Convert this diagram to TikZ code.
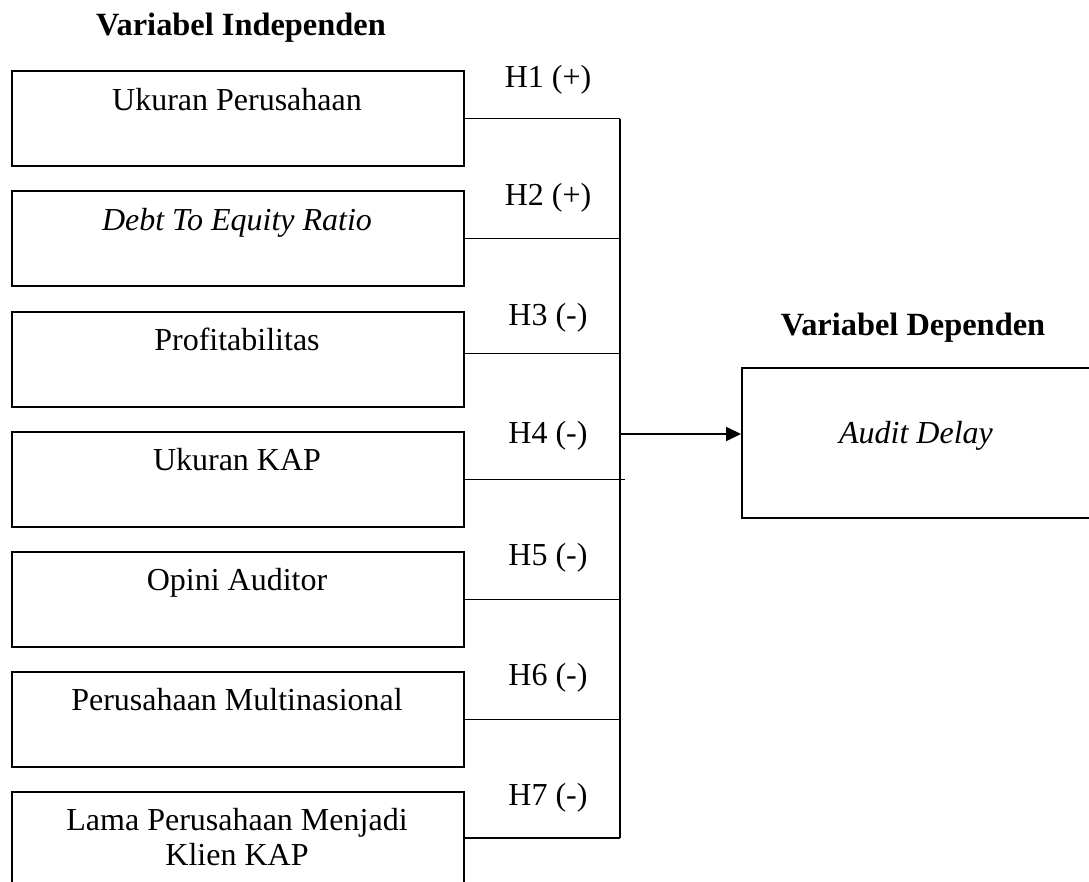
\documentclass[tikz,border=0pt]{standalone}
\usepackage{fontspec}
\setmainfont{Liberation Serif}
\usetikzlibrary{arrows.meta}
\begin{document}
\begin{tikzpicture}[x=1pt,y=-1pt,
  box/.style={draw,line width=1.8pt,rectangle,minimum width=452pt,minimum height=95pt,inner sep=0pt,anchor=north west},
  lbl/.style={font=\fontsize{32}{36}\selectfont,anchor=base,inner sep=0pt},
  hyp/.style={font=\fontsize{32}{36}\selectfont,anchor=base,inner sep=0pt},
  ttl/.style={font=\fontsize{32.4}{36}\selectfont\bfseries,anchor=base,inner sep=0pt},
  conn/.style={line width=1.8pt},
]
\useasboundingbox (0,0) rectangle (1089,881);
\clip (0,0) rectangle (1089,881);

\node[ttl] (t1) at (241,35) {Variabel Independen};
\node[ttl] (t2) at (913,335) {Variabel Dependen};

\node[box] (b1) at (11,70) {};
\node[box] (b2) at (11,190) {};
\node[box] (b3) at (11,311) {};
\node[box] (b4) at (11,431) {};
\node[box] (b5) at (11,551) {};
\node[box] (b6) at (11,671) {};
\node[box,minimum height=140pt] (b7) at (11,791) {};

\node[lbl] (l1) at (237,110) {Ukuran Perusahaan};
\node[lbl] (l2) at (237,230) {\itshape Debt To Equity Ratio};
\node[lbl] (l3) at (237,350) {Profitabilitas};
\node[lbl] (l4) at (237,470) {Ukuran KAP};
\node[lbl] (l5) at (237,590) {Opini Auditor};
\node[lbl] (l6) at (237,710) {Perusahaan Multinasional};
\node[lbl] (l7a) at (237,830) {Lama Perusahaan Menjadi};
\node[lbl] (l7b) at (237,865) {Klien KAP};

\node[draw,line width=1.8pt,rectangle,minimum width=360pt,minimum height=150pt,inner sep=0pt,anchor=north west] (dv) at (741,367) {};
\node[lbl] (ad) at (916,443) {\itshape Audit Delay};

\node[hyp] (h1) at (548,87) {H1 (+)};
\node[hyp] (h2) at (548,205) {H2 (+)};
\node[hyp] (h3) at (548,325) {H3 (-)};
\node[hyp] (h4) at (548,443) {H4 (-)};
\node[hyp] (h5) at (548,565) {H5 (-)};
\node[hyp] (h6) at (548,685) {H6 (-)};
\node[hyp] (h7) at (548,805) {H7 (-)};

\coordinate (busT) at (620,119);
\coordinate (busB) at (620,838);
\coordinate (busA) at (620,434);
\coordinate (h4end) at (625,478);

\draw[conn] (busT) -- (busB);
\draw[conn] (b1.east) -- (b1.east -| busT);
\draw[conn] (b2.east) -- (b2.east -| busT);
\draw[conn] ([yshift=6pt]b3.east) -- ([yshift=6pt]b3.east -| busT);
\draw[conn] (b4.east) -- (b4.east -| h4end);
\draw[conn] (b5.east) -- (b5.east -| busT);
\draw[conn] (b6.east) -- (b6.east -| busT);
\draw[conn] ([yshift=-47pt]b7.north east) -- ([yshift=-47pt]b7.north east -| busT);
\draw[conn,-{Triangle[length=15pt,width=14pt]}] (busA) -- (busA -| dv.west);
\end{tikzpicture}
\end{document}
